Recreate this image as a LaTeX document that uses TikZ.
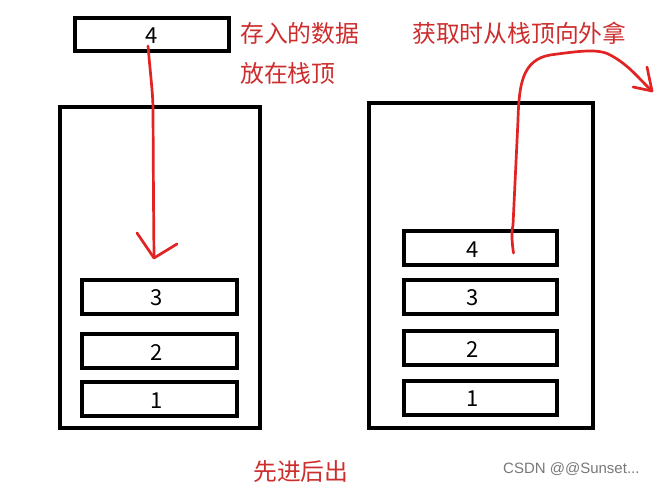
\documentclass[tikz,border=0pt]{standalone}
\usepackage{fontspec}
\setmainfont{Liberation Sans}
\newfontfamily\cjk{Noto Sans CJK SC}
\definecolor{txtred}{RGB}{205,45,45}
\definecolor{penred}{RGB}{225,35,35}
\definecolor{wmgray}{RGB}{120,120,120}
\begin{document}
\begin{tikzpicture}[x=1pt,y=-1pt,
  stackbox/.style={draw=black,line width=4.2pt,fill=none},
  cell/.style={draw=black,line width=4pt,minimum width=153pt,minimum height=34pt,inner sep=0pt,
     font=\cjk\fontsize{22}{22}\selectfont,text depth=0pt},
  note/.style={text=txtred,font=\cjk\fontsize{23.8}{24}\selectfont,inner sep=0pt,anchor=west},
  pen/.style={draw=penred,line width=2.7pt,line cap=round,line join=round}]
\useasboundingbox (0,0) rectangle (655,484);
% stacks
\draw[stackbox] (60,107) rectangle (260,428);
\draw[stackbox] (369,103) rectangle (593,428);
% top box
\node[cell,minimum width=154pt,minimum height=33pt] (top) at (152,34.5) {\raisebox{-3pt}{4}};
% left cells
\node[cell,minimum width=155pt] (l3) at (159.5,296.5) {\hspace*{-6pt}\raisebox{-3pt}{3}};
\node[cell,minimum width=155pt] (l2) at (159.5,351) {\hspace*{-6pt}\raisebox{-3pt}{2}};
\node[cell,minimum width=155pt] (l1) at (159.5,399) {\hspace*{-6pt}\raisebox{-3pt}{1}};
% right cells
\node[cell] (r4) at (480.5,248) {\hspace*{-16pt}\raisebox{-3pt}{4}};
\node[cell] (r3) at (480.5,296.5) {\hspace*{-16pt}\raisebox{-3pt}{3}};
\node[cell] (r2) at (480.5,348) {\hspace*{-16pt}\raisebox{-3pt}{2}};
\node[cell] (r1) at (480.5,397.5) {\hspace*{-16pt}\raisebox{-3pt}{1}};
% notes
\node[note] (n1) at (240,33) {存入的数据};
\node[note] (n2) at (240,73) {放在栈顶};
\node[note] (n3) at (412,33) {获取时从栈顶向外拿};
\node[note] (n4) at (253,472) {先进后出};
\node[text=wmgray,font=\fontsize{15}{15}\selectfont,inner sep=0pt,anchor=west] (wm) at (503,469) {CSDN @@Sunset...};
% push arrow
\coordinate (ps) at ([xshift=-4pt,yshift=7pt]top.south);
\coordinate (pe) at (154,258);
\draw[pen] (ps) .. controls (151,80) and (153,95) .. (153,110) -- (153.5,200) -- (pe);
\draw[pen] (137,233) -- (pe) -- (177,244);
% pop arrow
\coordinate (qs) at ([xshift=33pt,yshift=-5pt]r4.center);
\coordinate (qe) at (652,91);
\draw[pen] (qs) .. controls (511,236) and (512,230) .. (513,225)
  -- (518,120) .. controls (519,85) and (522,60) .. (550,55)
  .. controls (580,51) and (600,48) .. (612,56)
  .. controls (630,66) and (640,80) .. (qe);
\draw[pen] (633,87) -- (qe) -- (647,67);
\end{tikzpicture}
\end{document}
